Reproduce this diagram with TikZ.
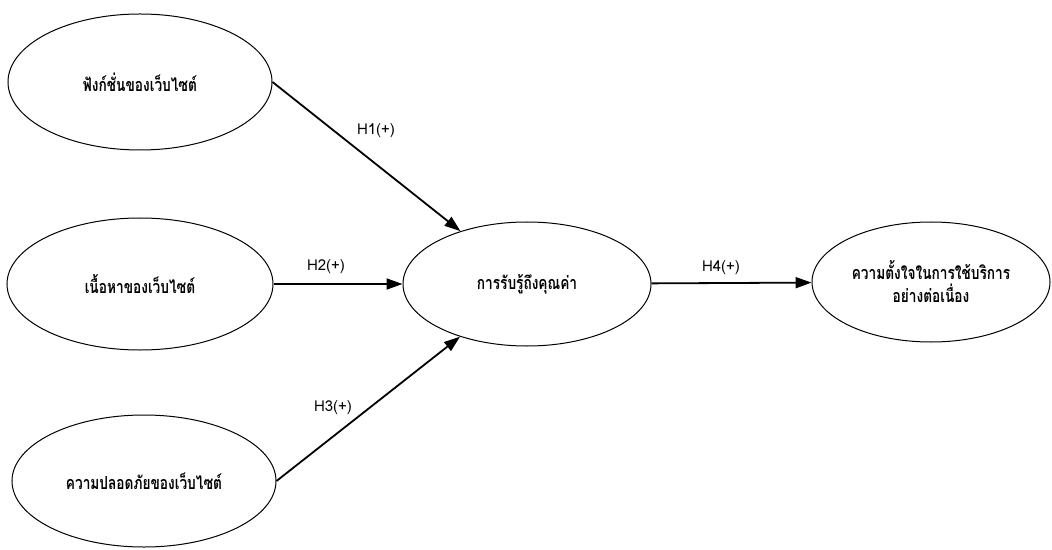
\documentclass[tikz,border=0pt]{standalone}
\usepackage{fontspec}
\setmainfont[Script=Thai, FakeStretch=0.76]{Loma}
\newfontfamily\labelfont{Loma}
\usetikzlibrary{arrows.meta, shapes.geometric}

\begin{document}
\begin{tikzpicture}[
    x=0.5pt, y=-0.5pt,
    construct/.style={draw, ellipse, line width=0.5pt, align=center, inner sep=0pt, font=\fontsize{9}{11.5}\selectfont\bfseries},
    hyp/.style={font=\labelfont\fontsize{7.5}{9}\selectfont},
    arrow/.style={-{Triangle[length=8pt, width=5.5pt]}, line width=0.9pt}
]
\useasboundingbox (0,0) rectangle (1052,550);

% Nodes
\node[construct, minimum width=132pt, minimum height=68pt] (function) at (140,82) {ฟังก์ชั่นของเว็บไซต์};
\node[construct, minimum width=133pt, minimum height=66pt] (content) at (140,284) {เนื้อหาของเว็บไซต์};
\node[construct, minimum width=132pt, minimum height=66pt] (security) at (144,481) {ความปลอดภัยของเว็บไซต์};
\node[construct, minimum width=124pt, minimum height=62pt] (value) at (527,284) {การรับรู้ถึงคุณค่า};
\node[construct, minimum width=119pt, minimum height=60pt] (intention) at (931,282) {ความตั้งใจในการใช้บริการ\\อย่างต่อเนื่อง};

% Labels
\node[hyp] (h1) at (376,131) {H1(+)};
\node[hyp] (h2) at (326,267) {H2(+)};
\node[hyp] (h3) at (333,408) {H3(+)};
\node[hyp] (h4) at (721,268) {H4(+)};

% Arrows
\draw[arrow] (function.east) -- (value);
\draw[arrow] (content) -- (value);
\draw[arrow] (security.east) -- (value);
\draw[arrow] (value) -- (intention);

\end{tikzpicture}
\end{document}
